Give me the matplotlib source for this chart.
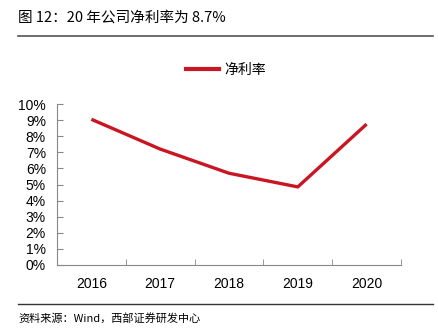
import matplotlib
matplotlib.use('Agg')
import matplotlib.pyplot as plt
from matplotlib.lines import Line2D

plt.rcParams['font.family'] = ['Liberation Sans', 'Noto Sans CJK SC', 'DejaVu Sans']

years = ['2016', '2017', '2018', '2019', '2020']
net_margin = [9.05, 7.2, 5.7, 4.85, 8.75]
y_ticks = [0, 1, 2, 3, 4, 5, 6, 7, 8, 9, 10]
y_labels = ['{}%'.format(v) for v in y_ticks]

W, H = 439, 332
fig = plt.figure(figsize=(W / 100, H / 100), dpi=100)
ax = fig.add_axes([57 / W, 1 - 265 / H, (401 - 57) / W, (265 - 104) / H])

red = '#C81623'
x = list(range(len(years)))
ax.plot(x, net_margin, color=red, linewidth=2.4, solid_capstyle='butt')

ax.set_xlim(-0.5, len(years) - 0.5)
ax.set_ylim(0, 10)
ax.set_yticks(y_ticks)
ax.set_yticklabels(y_labels, fontsize=10)
ax.set_xticks(x)
ax.set_xticklabels(years, fontsize=10)
ax.set_xticks([i + 0.5 for i in x], minor=True)
ax.tick_params(axis='x', which='major', length=0, pad=9)
ax.tick_params(axis='x', which='minor', length=4, color='#888888', direction='in')
ax.tick_params(axis='y', length=4, color='#888888', direction='in', pad=8)
for s in ['top', 'right']:
    ax.spines[s].set_visible(False)
for s in ['left', 'bottom']:
    ax.spines[s].set_color('#888888')
    ax.spines[s].set_linewidth(0.8)

# legend
handle = [Line2D([0], [0], color=red, linewidth=3)]
fig.legend(handle, ['净利率'], loc='center', bbox_to_anchor=(226 / W, 1 - 70 / H),
           frameon=False, handlelength=2.4, handletextpad=0.35,
           prop={'family': 'Noto Sans CJK SC', 'size': 10})

# title and frame lines
fig.text(18 / W, 1 - 18 / H, '图 12：20 年公司净利率为 8.7%', fontsize=10.5,
         family=['Noto Sans CJK SC', 'DejaVu Sans'], va='center', ha='left')
fig.add_artist(Line2D([18 / W, 433 / W], [1 - 36 / H, 1 - 36 / H], color='#555555', linewidth=1.2))
fig.add_artist(Line2D([18 / W, 433 / W], [1 - 304 / H, 1 - 304 / H], color='#333333', linewidth=1.0))
fig.text(18 / W, 1 - 318 / H, '资料来源：Wind，西部证券研发中心', fontsize=8,
         family=['Noto Sans CJK SC', 'DejaVu Sans'], va='center', ha='left')

fig.savefig('out.png', dpi=100)
